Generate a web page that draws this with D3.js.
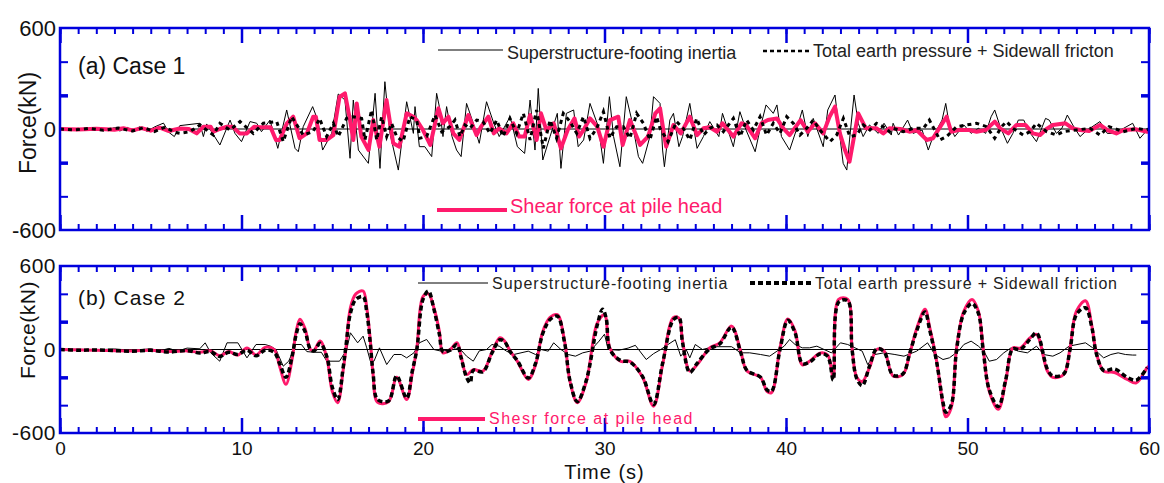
<!DOCTYPE html>
<html>
<head>
<meta charset="utf-8">
<script src="https://cdn.jsdelivr.net/npm/d3@7"></script>
<style>
  body { margin: 0; background: #fff; }
  svg { font-family: Arial, "Liberation Sans", sans-serif; }
</style>
</head>
<body>
<svg id="chart" width="1164" height="483"></svg>
<script>
// time (s) ticks and force (kN) labels
const timeTicks = [0, 10, 20, 30, 40, 50, 60]
const forceLabels = [-600, 0, 600]
const forceMarks = [-400, -200, 200, 400]

// ---- Case 1 : [time s, force kN] ----
const case1Inertia = [[0,0],[0.5,-4],[1,5],[1.5,-6],[2,6],[2.5,-8],[3,8],[3.3,-12],[3.7,10],[4,-10],[4.4,14],[4.8,-15],[5.2,12],[5.7,35],[6.0,-20],[6.3,-45],[6.6,20],
  [7.71,34],[7.9,-45],[8.08,30],[8.81,-95],[9.37,53],[9.64,-26],[10.0,-75],[10.47,44],[10.84,34],[11.1,-16],[11.57,53],[12.0,-115],[12.49,113],[12.95,-115],[13.13,-135],[13.4,14],[13.92,133],[14.2,53],[14.47,-125],[14.97,-26],[15.33,208],[15.7,172],[15.98,-174],[16.16,172],[16.44,-125],[16.99,-204],[17.36,212],[17.63,-234],[17.9,281],[18.18,-26],[18.64,-244],[19.1,162],[19.47,-26],
  [19.56,133],[19.8,-105],[20.1,-105],[20.48,-164],[20.75,212],[20.9,133],[21.1,-45],[21.3,133],[21.6,-45],[21.85,-125],[22.1,-164],[22.4,152],[22.77,34],[23.1,-85],[23.5,162],[23.9,34],[24.2,-45],[24.6,34],[24.8,73],[25.2,-105],[25.6,-145],[25.9,172],[26.17,-125],[26.35,241],[26.6,-184],[27.0,-45],[27.4,93],[27.6,-234],[27.9,93],[28.3,113],[28.55,-105],[28.85,-65],[29.2,152],[29.66,14],[29.94,-204],[30.27,192],[30.5,-45],[30.85,-224],[31.2,192],[31.5,53],[31.87,-164],[32.1,-204],[32.5,-45],[32.7,192],[33.06,152],
  [33.2,-125],[33.3,-224],[33.6,53],[33.8,93],[34.1,-105],[34.3,-45],[34.7,152],[35.1,-115],[35.45,-45],[35.8,44],[36.3,-45],[36.5,93],[37.1,-105],[37.46,103],[37.8,-6],[38.3,-135],[38.6,14],[38.9,143],[39.3,93],[39.5,143],[39.75,-45],[40.2,-125],[40.6,4],[40.9,113],[41.2,-45],[41.5,63],[42.05,-105],[42.3,113],[42.7,202],[42.97,-45],[43.15,-204],[43.35,-244],[43.5,-65],[43.75,202],[43.98,34],[44.25,-45],[44.6,24],[45.08,-26],[45.4,34],[45.8,-36],
  [45.9,34],[46.2,-36],[46.7,53],[47.0,-26],[47.5,-6],[47.84,-125],[48.1,-45],[48.6,53],[48.8,152],[49.0,24],[49.3,-45],[49.8,24],[50.2,-26],[50.6,4],[51.0,-26],[51.3,73],[51.5,113],[51.8,14],[52.2,-85],[52.5,-26],[52.8,53],[53.1,53],[53.4,-16],[53.8,-75],[54.3,63],[54.5,53],[54.9,-26],[55.2,4],[55.5,83],[55.8,24],[56.2,-45],[56.6,-6],[57.3,44],[57.7,-26],[58.2,-26],[58.6,4],[59.1,34],[59.5,-55],[59.9,-6],[60,-20]]

const case1Earth = [[0,0],[0.8,-6],[1.6,4],[2.4,-8],[3.2,6],[4,-12],[4.6,8],[5.2,-15],[5.8,12],[6.3,-20],
  [6.61,-26],[7.16,-16],[7.71,24],[8.45,-36],[8.81,34],[9.37,-6],[9.92,44],[10.65,-26],[11.2,34],[11.94,44],[12.3,-75],[12.76,73],[13.4,-36],[13.95,-16],[14.3,63],[14.69,-45],[15.06,34],[15.33,-45],[15.79,63],[16.16,73],[16.62,63],[16.8,-65],[17.17,113],[17.45,-65],[17.72,73],[18.0,-45],[18.27,34],[18.55,-45],[18.9,-75],[19.28,73],[19.65,53],
  [19.83,-55],[20.2,-45],[20.66,83],[21.03,-16],[21.48,14],[21.76,53],[22.04,-45],[22.31,24],[22.59,4],[22.96,53],[23.3,44],[23.69,-26],[24.06,53],[24.42,-45],[24.79,63],[25.16,-26],[25.53,93],[25.9,-65],[26.26,113],[26.63,-115],[27.0,53],[27.36,-55],[27.73,93],[28.1,44],[28.47,-26],[28.84,73],[29.2,-55],[29.57,4],[29.94,103],[30.3,-55],[30.67,14],[31.04,14],[31.4,-55],[31.77,93],[32.14,34],[32.5,-65],[32.87,73],
  [33.06,4],[33.5,-75],[33.97,44],[34.34,4],[34.7,-65],[35.08,63],[35.45,-36],[35.8,4],[36.2,24],[36.55,-16],[37.1,63],[37.47,-45],[37.83,53],[38.2,-6],[38.57,73],[38.93,-36],[39.3,34],[39.67,-26],[40.04,73],[40.4,34],[40.77,-36],[41.14,4],[41.5,53],[41.87,-6],[42.42,-75],[42.79,-36],[43.16,63],[43.52,-45],[43.89,-36],[44.26,24],[44.62,-6],[44.99,34],[45.36,14],[45.7,-16],
  [45.9,4],[46.46,-16],[47.0,4],[47.57,4],[47.9,53],[48.48,-65],[48.85,-45],[49.4,14],[49.95,24],[50.5,34],[51.05,14],[51.5,-55],[51.88,14],[52.15,44],[52.5,4],[53.07,-36],[53.44,-16],[53.8,34],[54.36,-16],[54.9,-36],[55.28,-16],[56.0,-6],[56.75,4],[57.3,-36],[57.8,14],[58.58,-16],[59.3,4],[59.87,-6],[60,0]]

const case1Shear = [[0,0],[1,-3],[2,2],[3,-5],[3.5,4],[4,-8],[4.5,5],[5,-10],[5.5,8],[6,-12],[6.6,3],
  [7.1,0],[7.53,-26],[7.9,14],[8.3,14],[8.45,-16],[8.8,0],[9.2,14],[9.5,14],[9.9,-26],[10.3,-26],[10.7,14],[11.0,10],[11.6,10],[11.9,-65],[12.1,-65],[12.5,34],[12.85,73],[13.2,-55],[13.6,-26],[13.95,73],[14.1,73],[14.3,-65],[14.7,-65],[15.06,-36],[15.4,190],[15.7,212],[15.98,53],[16.16,-65],[16.35,152],[16.6,-45],[17.0,-125],[17.26,53],[17.6,-105],[17.99,172],[18.36,-85],[18.7,-105],[19.1,93],[19.47,73],
  [19.65,53],[20.0,-6],[20.4,-95],[20.85,123],[21.1,34],[21.4,73],[21.67,-26],[22.0,-65],[22.5,83],[22.95,-36],[23.2,14],[23.6,73],[23.9,-26],[24.2,4],[24.6,-26],[24.97,34],[25.3,-45],[25.6,-45],[25.9,83],[26.26,-65],[26.5,93],[26.8,-6],[27.2,34],[27.6,-115],[27.97,-6],[28.35,63],[28.6,-45],[28.9,4],[29.2,63],[29.6,14],[29.94,-105],[30.3,53],[30.76,73],[31.0,-95],[31.4,53],[31.96,-95],[32.4,-45],[32.8,93],
  [33.06,123],[33.3,-45],[33.4,-105],[33.8,24],[34.2,-26],[34.7,73],[35.1,-36],[35.45,4],[35.8,10],[36.2,-16],[36.5,34],[37.1,-45],[37.55,34],[37.8,24],[38.3,-55],[38.65,34],[39.0,53],[39.5,63],[39.85,4],[40.2,-36],[40.8,53],[41.2,-16],[41.6,34],[42.05,-26],[42.4,73],[42.7,133],[42.97,-26],[43.25,-125],[43.5,-194],[43.98,93],[44.4,4],[44.99,4],[45.36,-26],[45.7,4],
  [46.3,0],[46.8,-16],[47.2,-6],[47.75,-65],[48.1,-55],[48.5,14],[48.85,73],[49.1,-16],[49.5,-6],[50.1,-6],[50.5,-16],[51.0,-6],[51.5,44],[51.8,4],[52.25,-26],[52.7,24],[53.2,24],[53.6,-26],[54.0,-36],[54.4,4],[54.7,24],[55.4,34],[55.8,4],[56.2,-6],[56.7,-12],[57.3,24],[57.7,-6],[58.2,-26],[58.6,-6],[59.3,-2],[59.9,-16],[60,-10]]

// ---- Case 2 ----
const case2Inertia = [[0,0],[1,2],[2,-3],[3,4],[4,-6],[5,5],[5.5,-10],[6,8],[6.5,-12],[7,10],[7.7,5],[8.0,48],[8.3,-24],[8.8,-84],[9.2,48],[9.8,48],[10.3,-60],[10.8,36],[11.3,36],[11.6,24],[11.9,0],[12.3,-120],[12.6,-84],[13.0,36],[13.3,36],[13.6,-15],[14.0,-20],[14.4,-20],[14.7,-84],[15.4,-84],[15.8,0],[16.0,120],[16.4,48],[16.7,96],[16.9,12],[17.1,-84],[17.3,-84],[17.6,12],[18.0,-108],[18.4,-36],[18.8,-36],[19.1,-60],[19.5,-24],[19.8,48],[20.2,72],[20.6,0],[21.0,-12],[21.7,0],[22.0,10],[22.4,-48],[22.77,-84],[23.1,-10],[23.5,0],[23.8,36],[24.2,24],[24.6,-12],[25.0,-36],[25.4,-24],[25.8,-12],[26.2,-36],[26.5,0],[26.9,-12],[27.2,48],[27.6,0],[28.0,-36],[28.4,-48],[28.8,-24],[29.2,-12],[29.7,60],[30.0,110],[30.2,0],[30.8,-5],[31.3,10],[31.7,30],[32.3,-72],[32.7,-30],[33.1,0],[33.5,36],[33.9,70],[34.2,-48],[34.5,0],[34.7,-60],[35.0,36],[35.4,0],[36.0,20],[37.0,20],[37.5,-24],[38.0,-24],[38.6,-36],[39.1,-48],[39.5,-12],[39.9,24],[40.2,72],[40.5,36],[40.9,12],[41.3,12],[41.7,24],[42.1,0],[42.5,-24],[43.0,48],[43.4,36],[43.8,12],[44.2,-12],[44.5,-108],[44.9,-36],[45.4,-24],[46.0,-36],[46.5,-48],[47.2,-12],[47.8,48],[48.2,-36],[48.65,-72],[49.0,-60],[49.5,-12],[49.8,36],[50.2,60],[50.6,24],[50.9,-12],[51.2,-84],[51.6,-72],[52.0,-24],[52.4,12],[52.8,-12],[53.3,-24],[53.8,24],[54.2,-36],[54.7,-48],[55.1,-24],[55.6,24],[56.5,48],[56.9,12],[57.2,-24],[57.5,-60],[57.9,-36],[58.3,-24],[58.7,-36],[59.1,-40],[59.3,-40]]

const case2Earth = [[0,0],[1,-5],[2,-3],[3,-8],[4,-12],[5,-6],[6,-18],[7,-8],[7.7,-25],[8.3,-15],[8.8,-50],[9.3,-20],[9.8,-35],[10.3,-5],[10.8,-45],[11.3,-5],[11.8,-20],[12.1,-100],[12.45,-200],[12.8,-40],[13.0,100],[13.22,185],[13.5,130],[13.8,0],[14.0,-10],[14.33,45],[14.7,-50],[15.0,-270],[15.3,-360],[15.6,-130],[15.75,20],[16.0,260],[16.3,360],[16.7,380],[16.9,270],[17.1,40],[17.25,-170],[17.5,-360],[18.1,-370],[18.55,-190],[19.1,-350],[19.4,-160],[19.66,0],[20.0,360],[20.3,420],[20.6,290],[20.9,110],[21.1,-15],[21.5,-5],[21.87,35],[22.1,-60],[22.4,-200],[22.6,-240],[22.77,-150],[23.3,-160],[23.8,-25],[24.24,70],[24.5,55],[24.8,-15],[25.2,-80],[25.8,-205],[26.2,-100],[26.6,115],[27.0,215],[27.4,240],[27.8,50],[28.1,-225],[28.5,-375],[29.0,-220],[29.6,175],[29.9,290],[30.1,220],[30.3,0],[30.9,-80],[31.4,-90],[32.1,-195],[32.7,-395],[33.2,-100],[33.8,215],[34.1,230],[34.3,50],[34.7,-165],[35.1,-100],[35.8,5],[36.35,40],[37.0,160],[37.5,-20],[37.85,-150],[38.6,-200],[38.95,-290],[39.2,-300],[39.67,0],[40.1,210],[40.5,120],[40.9,-100],[41.3,-90],[41.9,-30],[42.3,-50],[42.6,-220],[42.9,340],[43.4,350],[43.64,0],[43.9,-210],[44.2,-260],[44.6,-120],[45.0,5],[45.4,-15],[45.9,-185],[46.44,-175],[46.8,-35],[47.2,135],[47.66,270],[47.9,150],[48.3,-90],[48.65,-380],[48.8,-450],[49.1,-400],[49.4,0],[49.8,260],[50.25,330],[50.6,260],[50.86,0],[51.2,-290],[51.7,-410],[52.1,-220],[52.5,5],[52.9,0],[53.45,75],[53.8,120],[54.4,-140],[54.7,-190],[55.3,-175],[55.65,0],[56.0,250],[56.5,300],[56.85,160],[57.1,-30],[57.5,-150],[58.1,-140],[58.8,-200],[59.3,-220],[59.9,-130]]

const case2Shear = [[0,0],[2,-5],[4,-10],[5,-5],[6,-15],[7,-10],[7.7,-20],[8.3,-10],[8.8,-45],[9.3,-15],[9.8,-40],[10.3,10],[10.8,-40],[11.3,15],[11.8,0],[12.1,-120],[12.45,-250],[12.8,-60],[13.0,120],[13.22,217],[13.5,150],[13.8,0],[14.0,-5],[14.33,61],[14.7,-60],[15.0,-300],[15.3,-382],[15.6,-150],[15.75,0],[16.0,300],[16.3,400],[16.7,420],[16.9,300],[17.1,60],[17.25,-180],[17.5,-380],[18.1,-375],[18.55,-200],[19.1,-360],[19.4,-180],[19.66,10],[20.0,380],[20.3,400],[20.6,300],[20.9,133],[21.1,-25],[21.5,0],[21.87,48],[22.1,-50],[22.4,-180],[22.77,-145],[23.3,-155],[23.8,-20],[24.24,84],[24.5,60],[24.8,-10],[25.2,-85],[25.8,-215],[26.2,-110],[26.6,130],[27.0,230],[27.4,250],[27.8,60],[28.1,-230],[28.5,-382],[29.0,-230],[29.6,190],[30.0,250],[30.3,10],[30.9,-85],[31.4,-85],[32.1,-200],[32.7,-407],[33.2,-110],[33.8,230],[34.1,225],[34.3,60],[34.7,-155],[35.1,-110],[35.8,12],[36.35,48],[37.0,168],[37.5,-10],[37.85,-155],[38.6,-200],[38.95,-300],[39.2,-310],[39.67,12],[40.1,220],[40.5,133],[40.9,-110],[41.3,-85],[41.9,-25],[42.3,-40],[42.6,-200],[42.9,360],[43.4,360],[43.64,10],[43.9,-200],[44.2,-230],[44.6,-130],[45.0,0],[45.4,-10],[45.9,-190],[46.44,-180],[46.8,-40],[47.2,150],[47.66,290],[47.9,170],[48.3,-85],[48.65,-400],[48.8,-484],[49.1,-420],[49.4,12],[49.8,276],[50.25,360],[50.6,276],[50.86,12],[51.2,-300],[51.7,-430],[52.1,-230],[52.5,12],[52.9,10],[53.45,84],[53.8,108],[54.4,-155],[54.7,-200],[55.3,-180],[55.65,12],[56.0,276],[56.5,350],[56.85,170],[57.1,-25],[57.5,-155],[58.1,-165],[58.8,-215],[59.3,-240],[59.9,-130],[60,-120]]

const blue = '#0000dd'
const pink = '#ff1a6c'
const left = 60, right = 1149

const svg = d3.select('#chart')
const x = d3.scaleLinear().domain([0, 60]).range([left, right])

const panels = [
  { id: 'a', top: 28, bottom: 230, title: '(a) Case 1', inertia: case1Inertia, earth: case1Earth, shear: case1Shear,
    pinkW: 4, earthW: 3, earthDash: '4 4', spacing: 0, curve: d3.curveLinear },
  { id: 'b', top: 266, bottom: 433, title: '(b) Case 2', inertia: case2Inertia, earth: case2Earth, shear: case2Shear,
    pinkW: 3, earthW: 3.5, earthDash: '5 3', spacing: 1, curve: d3.curveCatmullRom.alpha(0.5) }
]

function drawPanel(p) {
  const y = d3.scaleLinear().domain([-600, 600]).range([p.bottom, p.top])
  const g = svg.append('g').classed('panel-' + p.id, true)

  g.append('clipPath').attr('id', 'clip-' + p.id)
    .append('rect')
    .attr('x', left).attr('y', p.top)
    .attr('width', right - left).attr('height', p.bottom - p.top)

  const plot = g.append('g').attr('clip-path', `url(#clip-${p.id})`)
  const line = d3.line().x(d => x(d[0])).y(d => y(d[1]))
  const smooth = d3.line().x(d => x(d[0])).y(d => y(d[1])).curve(p.curve)

  plot.append('line')
    .attr('x1', left).attr('x2', right)
    .attr('y1', y(0)).attr('y2', y(0))
    .attr('stroke', '#000').attr('stroke-width', 1)

  plot.append('path').datum(p.inertia)
    .attr('d', line).attr('fill', 'none')
    .attr('stroke', '#000').attr('stroke-width', 1)

  plot.append('path').datum(p.shear)
    .attr('d', smooth).attr('fill', 'none')
    .attr('stroke', pink).attr('stroke-width', p.pinkW)
    .attr('stroke-linejoin', 'round')

  plot.append('path').datum(p.earth)
    .attr('d', smooth).attr('fill', 'none')
    .attr('stroke', '#000').attr('stroke-width', p.earthW)
    .attr('stroke-dasharray', p.earthDash)

  // ticks, all pointing inward
  const axes = g.append('g').classed('axis', true)
  const tickStyle = (sel, w) => {
    sel.select('.domain').remove()
    sel.selectAll('line').attr('stroke', blue).attr('stroke-width', w)
  }
  const minorT = d3.range(0, 61)
  axes.append('g').attr('transform', `translate(0,${p.bottom})`)
    .call(d3.axisBottom(x).tickValues(minorT).tickSize(-6).tickFormat(''))
    .call(tickStyle, 2)
  axes.append('g').attr('transform', `translate(0,${p.bottom})`)
    .call(d3.axisBottom(x).tickValues(timeTicks).tickSize(-15).tickFormat(''))
    .call(tickStyle, 2.5)
  axes.append('g').attr('transform', `translate(0,${p.top})`)
    .call(d3.axisTop(x).tickValues(minorT).tickSize(-6).tickFormat(''))
    .call(tickStyle, 2)
  axes.append('g').attr('transform', `translate(0,${p.top})`)
    .call(d3.axisTop(x).tickValues(timeTicks).tickSize(-15).tickFormat(''))
    .call(tickStyle, 2.5)

  const yl = axes.append('g').attr('transform', `translate(${left},0)`)
    .call(d3.axisLeft(y).tickValues(forceMarks).tickSize(-8).tickFormat(''))
    .call(tickStyle, 2)
  yl.selectAll('.tick line').filter(d => Math.abs(d) === 200).attr('stroke-width', 3.5)
  const yr = axes.append('g').attr('transform', `translate(${right},0)`)
    .call(d3.axisRight(y).tickValues(forceMarks).tickSize(-8).tickFormat(''))
    .call(tickStyle, 2)
  yr.selectAll('.tick line').filter(d => Math.abs(d) === 200).attr('stroke-width', 3.5)

  // y labels, plain hyphen for the minus sign as in the figure
  axes.append('g').attr('transform', `translate(${left - 4},0)`)
    .call(d3.axisLeft(y).tickValues(forceLabels).tickSize(0).tickPadding(0).tickFormat(d => String(d)))
    .call(a => a.select('.domain').remove())
    .selectAll('text')
    .attr('fill', '#111')
    .style('font-size', p.id === 'a' ? '22px' : '21px')
    .style('letter-spacing', p.spacing ? '0.5px' : null)

  // frame
  g.append('rect')
    .attr('x', left).attr('y', p.top)
    .attr('width', right - left).attr('height', p.bottom - p.top)
    .attr('fill', 'none').attr('stroke', blue).attr('stroke-width', 2.5)

  g.append('text')
    .attr('x', 78).attr('y', p.id === 'a' ? 74 : 305)
    .style('font-size', p.id === 'a' ? '23px' : '21px')
    .style('letter-spacing', p.spacing ? '1px' : null)
    .attr('fill', '#111')
    .text(p.title)

  g.append('text')
    .attr('transform', `translate(${p.id === 'a' ? 36 : 35},${p.id === 'a' ? 123 : 330}) rotate(-90)`)
    .attr('text-anchor', 'middle')
    .style('font-size', p.id === 'a' ? '23px' : '21px')
    .style('letter-spacing', p.spacing ? '0.5px' : null)
    .attr('fill', '#111')
    .text('Force(kN)')

  return y
}

panels.forEach(drawPanel)

// x labels under case 2
svg.append('g').attr('transform', `translate(0,${panels[1].bottom})`)
  .call(d3.axisBottom(x).tickValues(timeTicks).tickSize(0).tickPadding(9))
  .call(a => a.select('.domain').remove())
  .selectAll('text')
  .attr('fill', '#111')
  .style('font-size', '19px')

svg.append('text')
  .attr('x', (left + right) / 2).attr('y', 479)
  .attr('text-anchor', 'middle')
  .style('font-size', '20px').style('letter-spacing', '1px')
  .attr('fill', '#111')
  .text('Time (s)')

// legends
function legendLine(x1, x2, yy, stroke, w, dash) {
  svg.append('line')
    .attr('x1', x1).attr('x2', x2).attr('y1', yy).attr('y2', yy)
    .attr('stroke', stroke).attr('stroke-width', w)
    .attr('stroke-dasharray', dash || null)
}
function legendText(x0, yy, txt, size, spacing, color) {
  svg.append('text')
    .attr('x', x0).attr('y', yy)
    .style('font-size', size + 'px')
    .style('letter-spacing', spacing ? spacing + 'px' : null)
    .attr('fill', color || '#222')
    .text(txt)
}

legendLine(438, 503, 50, '#555', 1.5)
legendText(507, 59, 'Superstructure-footing inertia', 18, -0.1)
legendLine(763, 811, 51, '#000', 2.5, '4 3')
legendText(813, 57, 'Total earth pressure + Sidewall fricton', 18, 0)
legendLine(437, 507, 210, pink, 4)
legendText(510, 213, 'Shear force at pile head', 20, 0, pink)

legendLine(418, 488, 283, '#000', 1)
legendText(492, 289, 'Superstructure-footing inertia', 16, 1)
legendLine(750, 812, 283, '#000', 4, '5 3')
legendText(815, 289, 'Total earth pressure + Sidewall friction', 16, 0.8)
legendLine(418, 485, 419, pink, 4)
legendText(489, 424, 'Shesr force at pile head', 16, 1.5, pink)
</script>
</body>
</html>
